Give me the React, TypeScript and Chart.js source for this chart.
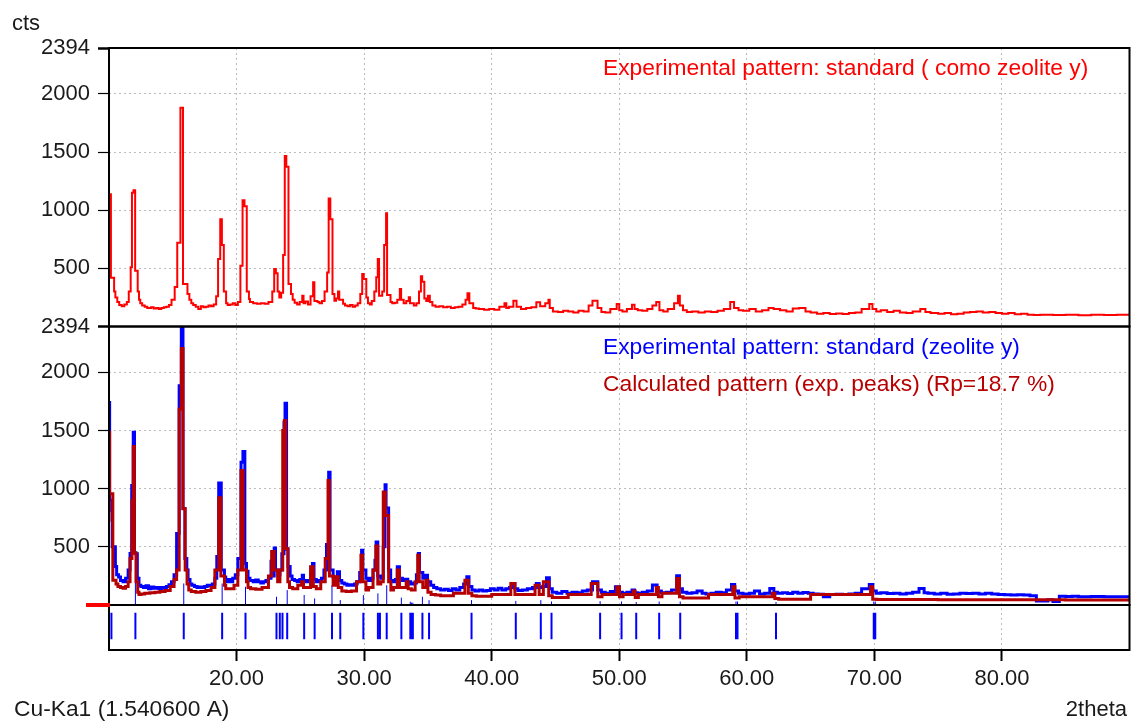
import React, { useEffect, useRef } from "react";
import { Chart, registerables } from "chart.js";

Chart.register(...registerables);

// ---------------- data ----------------
const xRange = [10, 90];
const yMaxCounts = 2394;
const yTickValues = [500, 1000, 1500, 2000, 2394];
const xTickValues = [20, 30, 40, 50, 60, 70, 80];

const topLegend = "Experimental pattern: standard ( como zeolite y)";
const expLegend = "Experimental pattern: standard (zeolite y)";
const calcLegend = "Calculated pattern (exp. peaks) (Rp=18.7 %)";
const yAxisTitle = "cts";
const xAxisTitle = "2theta";
const radiationLabel = "Cu-Ka1 (1.540600 A)";

// top panel: experimental pattern "como zeolite y" [2theta, cts]
const comoPattern: [number, number][] = [
  [10.0, 290], [10.05, 990], [10.15, 1137], [10.4, 420], [10.5, 300], [10.65, 250], [10.8, 210],
  [11.0, 185], [11.2, 175], [11.4, 190], [11.55, 210], [11.7, 300], [11.8, 510], [11.92, 1150],
  [12.05, 1171], [12.25, 480], [12.35, 300], [12.45, 230], [12.6, 200], [12.8, 180], [13.0, 170],
  [13.3, 160], [13.5, 165], [13.7, 155], [13.9, 158], [14.1, 150], [14.3, 160], [14.5, 165],
  [14.7, 170], [14.9, 185], [15.15, 230], [15.35, 340], [15.6, 720], [15.8, 1880], [16.15, 365],
  [16.3, 280], [16.45, 230], [16.6, 200], [16.8, 185], [17.0, 170], [17.2, 150], [17.4, 175],
  [17.6, 165], [17.8, 170], [18.0, 180], [18.2, 175], [18.4, 190], [18.55, 260], [18.72, 580],
  [18.85, 922], [19.0, 700], [19.18, 300], [19.3, 200], [19.5, 185], [19.7, 190], [19.9, 200],
  [20.1, 185], [20.3, 210], [20.47, 522], [20.62, 1085], [20.8, 1034], [20.97, 300], [21.05, 236],
  [21.3, 210], [21.6, 200], [21.9, 195], [22.2, 200], [22.5, 195], [22.8, 210], [22.95, 300],
  [23.08, 494], [23.22, 458], [23.35, 300], [23.5, 250], [23.65, 290], [23.78, 614], [23.9, 1465],
  [24.07, 1374], [24.27, 365], [24.4, 280], [24.55, 230], [24.75, 205], [24.95, 190], [25.15, 210],
  [25.25, 265], [25.4, 200], [25.6, 215], [25.8, 190], [26.0, 260], [26.1, 380], [26.35, 220],
  [26.5, 210], [26.7, 200], [26.9, 220], [27.1, 300], [27.22, 465], [27.35, 1100], [27.52, 922],
  [27.67, 280], [27.8, 222], [27.95, 240], [28.05, 300], [28.35, 230], [28.5, 195], [28.7, 180],
  [28.9, 175], [29.1, 185], [29.3, 170], [29.5, 180], [29.7, 200], [29.85, 280], [29.97, 451],
  [30.17, 408], [30.3, 250], [30.45, 200], [30.6, 190], [30.8, 220], [30.95, 300], [31.07, 424],
  [31.17, 580], [31.42, 265], [31.57, 300], [31.72, 700], [31.8, 974], [32.07, 271], [32.2, 210],
  [32.4, 200], [32.6, 205], [32.8, 230], [32.9, 322], [33.1, 230], [33.3, 200], [33.5, 220],
  [33.6, 251], [33.9, 200], [34.1, 180], [34.3, 200], [34.45, 300], [34.55, 431], [34.72, 385],
  [34.87, 240], [35.0, 220], [35.15, 265], [35.35, 210], [35.6, 180], [35.9, 170], [36.2, 175],
  [36.5, 165], [36.8, 170], [37.1, 160], [37.4, 165], [37.7, 170], [37.95, 190], [38.1, 230],
  [38.25, 285], [38.55, 200], [38.75, 160], [39.0, 155], [39.4, 150], [39.8, 145], [40.2, 150],
  [40.6, 145], [41.0, 170], [41.15, 200], [41.35, 160], [41.7, 170], [41.95, 222], [42.3, 170],
  [42.7, 150], [43.1, 160], [43.5, 165], [43.8, 208], [44.2, 175], [44.45, 200], [44.55, 230],
  [44.8, 160], [45.2, 130], [45.6, 125], [46.0, 135], [46.4, 128], [46.8, 120], [47.2, 135],
  [47.6, 130], [47.9, 180], [48.3, 222], [48.6, 160], [48.9, 125], [49.3, 120], [49.8, 150],
  [50.0, 194], [50.25, 140], [50.6, 130], [51.0, 150], [51.2, 188], [51.45, 150], [51.8, 140],
  [52.2, 135], [52.6, 150], [52.9, 180], [53.15, 211], [53.45, 140], [53.8, 130], [54.3, 150],
  [54.6, 200], [54.75, 265], [55.0, 180], [55.3, 140], [55.7, 125], [56.2, 130], [56.7, 120],
  [57.2, 130], [57.7, 125], [58.2, 135], [58.7, 150], [59.0, 211], [59.35, 160], [59.7, 140],
  [60.2, 135], [60.7, 150], [61.2, 130], [61.7, 140], [62.1, 160], [62.6, 150], [63.1, 140],
  [63.6, 130], [64.1, 155], [64.6, 160], [65.0, 130], [65.5, 120], [66.0, 110], [66.5, 115],
  [67.0, 108], [67.5, 112], [68.0, 108], [68.5, 115], [69.0, 120], [69.6, 150], [69.85, 194],
  [70.15, 150], [70.5, 130], [71.0, 140], [71.5, 125], [72.0, 135], [72.5, 120], [73.0, 115],
  [73.6, 130], [74.0, 150], [74.4, 125], [75.0, 115], [75.5, 110], [76.0, 115], [76.5, 105],
  [77.0, 110], [77.5, 120], [78.0, 125], [78.5, 130], [79.0, 120], [79.5, 125], [80.0, 115],
  [80.5, 110], [81.0, 115], [81.5, 105], [82.0, 110], [82.5, 100], [83.0, 98], [84.0, 100],
  [85.0, 98], [86.0, 100], [87.0, 97], [88.0, 100], [89.0, 98], [90.0, 100],
];

// middle panel: experimental pattern "zeolite y" [2theta, cts]
const expPattern: [number, number][] = [
  [10.0, 800], [10.05, 1740], [10.25, 900], [10.5, 500], [10.6, 330], [10.75, 260], [10.9, 240],
  [11.1, 210], [11.3, 200], [11.5, 230], [11.65, 300], [11.78, 442], [11.9, 1028], [12.0, 1485],
  [12.1, 450], [12.22, 440], [12.35, 230], [12.5, 170], [12.7, 160], [12.9, 150], [13.1, 165],
  [13.3, 140], [13.5, 155], [13.7, 145], [13.9, 150], [14.1, 140], [14.3, 150], [14.5, 145],
  [14.7, 160], [14.9, 175], [15.1, 200], [15.3, 260], [15.5, 614], [15.67, 1885], [15.8, 2394],
  [15.95, 830], [16.1, 400], [16.2, 300], [16.35, 220], [16.5, 180], [16.7, 170], [16.9, 160],
  [17.1, 150], [17.3, 155], [17.5, 150], [17.7, 160], [17.9, 170], [18.1, 165], [18.3, 180],
  [18.45, 230], [18.6, 416], [18.8, 1048], [19.05, 300], [19.15, 240], [19.35, 200], [19.5, 220],
  [19.7, 200], [19.9, 230], [20.1, 260], [20.35, 400], [20.5, 1228], [20.65, 1319], [20.78, 357],
  [20.9, 290], [21.05, 230], [21.3, 210], [21.5, 200], [21.7, 215], [21.9, 200], [22.1, 190],
  [22.3, 200], [22.5, 210], [22.7, 230], [22.85, 376], [22.95, 250], [23.05, 491], [23.25, 300],
  [23.4, 260], [23.55, 300], [23.72, 440], [23.8, 1571], [23.92, 1734], [24.04, 480], [24.2, 330],
  [24.35, 250], [24.55, 220], [24.75, 210], [24.95, 200], [25.15, 220], [25.25, 256], [25.4, 200],
  [25.6, 210], [25.8, 200], [25.95, 260], [26.07, 357], [26.25, 220], [26.45, 200], [26.65, 210],
  [26.85, 230], [27.05, 300], [27.22, 520], [27.33, 1142], [27.57, 300], [27.7, 240], [27.9, 220],
  [28.07, 285], [28.25, 210], [28.45, 190], [28.65, 180], [28.85, 170], [29.05, 175], [29.25, 170],
  [29.45, 180], [29.65, 200], [29.8, 280], [29.9, 471], [30.14, 300], [30.3, 230], [30.5, 210],
  [30.7, 230], [30.85, 300], [30.94, 385], [31.07, 542], [31.3, 250], [31.5, 230], [31.64, 500],
  [31.72, 1034], [31.92, 834], [32.08, 300], [32.25, 210], [32.45, 200], [32.6, 220], [32.77, 328],
  [33.0, 230], [33.2, 210], [33.42, 222], [33.65, 200], [33.9, 180], [34.1, 190], [34.25, 260],
  [34.34, 442], [34.6, 280], [34.8, 230], [34.97, 256], [35.22, 200], [35.45, 170], [35.7, 150],
  [36.0, 140], [36.3, 130], [36.6, 135], [36.9, 125], [37.2, 140], [37.5, 130], [37.8, 150],
  [38.05, 180], [38.22, 242], [38.45, 160], [38.7, 130], [39.0, 120], [39.3, 130], [39.6, 120],
  [39.9, 125], [40.2, 140], [40.5, 130], [40.8, 145], [41.1, 130], [41.4, 140], [41.7, 150],
  [41.82, 185], [42.05, 140], [42.4, 125], [42.8, 130], [43.2, 140], [43.5, 150], [43.72, 185],
  [44.0, 150], [44.3, 160], [44.52, 234], [44.75, 140], [45.1, 110], [45.5, 100], [45.9, 115],
  [46.3, 100], [46.7, 110], [47.1, 105], [47.5, 120], [47.9, 128], [48.32, 200], [48.6, 130],
  [48.9, 110], [49.3, 100], [49.7, 115], [50.02, 157], [50.25, 110], [50.6, 100], [51.0, 110],
  [51.2, 128], [51.45, 105], [51.8, 100], [52.2, 110], [52.6, 120], [52.97, 171], [53.3, 120],
  [53.7, 105], [54.1, 110], [54.5, 130], [54.72, 251], [54.95, 140], [55.3, 110], [55.7, 100],
  [56.1, 105], [56.5, 120], [56.8, 100], [57.2, 95], [57.6, 100], [58.0, 110], [58.4, 105],
  [58.8, 130], [59.05, 177], [59.35, 120], [59.7, 100], [60.2, 95], [60.6, 100], [61.0, 120],
  [61.4, 95], [61.8, 100], [62.12, 142], [62.4, 110], [62.8, 100], [63.2, 105], [63.6, 98],
  [64.0, 110], [64.4, 100], [64.8, 108], [65.2, 100], [65.6, 95], [66.0, 92], [66.5, 70],
  [67.0, 90], [67.5, 92], [68.0, 90], [68.5, 95], [69.0, 100], [69.6, 140], [69.87, 177],
  [70.15, 120], [70.5, 100], [71.0, 105], [71.5, 98], [72.0, 102], [72.5, 95], [73.0, 100],
  [73.5, 110], [73.9, 142], [74.2, 105], [74.7, 100], [75.2, 95], [75.7, 100], [76.2, 92],
  [76.7, 95], [77.2, 100], [77.7, 98], [78.2, 100], [78.7, 95], [79.2, 100], [79.7, 95],
  [80.2, 90], [80.7, 88], [81.2, 85], [81.7, 88], [82.2, 85], [82.7, 80], [83.6, 35], [84.0, 45],
  [84.5, 30], [85.0, 75], [85.5, 72], [86.0, 75], [87.0, 70], [88.0, 72], [89.0, 70], [90.0, 70],
];

// middle panel: calculated pattern [2theta, cts]
const calcPattern: [number, number][] = [
  [10.0, 716], [10.05, 1485], [10.3, 956], [10.55, 213], [10.7, 180], [10.9, 160], [11.1, 150],
  [11.3, 145], [11.5, 160], [11.65, 200], [11.8, 400], [11.9, 899], [11.99, 1362], [12.12, 444],
  [12.25, 200], [12.35, 110], [12.5, 90], [12.8, 95], [13.2, 100], [13.6, 105], [14.0, 110],
  [14.4, 115], [14.8, 125], [15.1, 160], [15.3, 220], [15.5, 300], [15.67, 1685], [15.8, 2205],
  [15.97, 828], [16.12, 300], [16.25, 180], [16.45, 130], [16.8, 115], [17.2, 110], [17.6, 115],
  [18.0, 125], [18.3, 150], [18.6, 300], [18.77, 922], [19.05, 250], [19.15, 170], [19.4, 140],
  [19.8, 140], [20.1, 170], [20.35, 300], [20.52, 1156], [20.78, 300], [20.9, 200], [21.1, 150],
  [21.5, 140], [22.0, 135], [22.5, 150], [22.75, 250], [22.95, 459], [23.22, 300], [23.4, 200],
  [23.62, 300], [23.75, 1500], [23.85, 1585], [24.02, 485], [24.15, 200], [24.4, 150], [24.8, 140],
  [25.1, 170], [25.25, 200], [25.45, 150], [25.8, 150], [26.02, 328], [26.25, 160], [26.6, 140],
  [26.95, 200], [27.17, 400], [27.28, 1071], [27.57, 250], [27.75, 170], [27.97, 242], [28.25, 150],
  [28.6, 120], [29.0, 115], [29.4, 120], [29.75, 200], [29.88, 428], [30.14, 200], [30.35, 130],
  [30.7, 150], [30.92, 300], [31.07, 508], [31.3, 180], [31.5, 200], [31.67, 971], [31.92, 770],
  [32.1, 200], [32.3, 130], [32.6, 150], [32.77, 300], [33.0, 150], [33.3, 150], [33.45, 200],
  [33.7, 140], [34.0, 130], [34.2, 200], [34.32, 428], [34.6, 200], [34.85, 150], [35.0, 213],
  [35.25, 110], [35.6, 90], [36.0, 85], [37.0, 80], [37.9, 100], [38.17, 213], [38.45, 100],
  [38.8, 80], [40.0, 75], [41.5, 90], [41.82, 185], [42.1, 90], [43.4, 90], [43.72, 170],
  [44.05, 90], [44.47, 200], [44.75, 80], [46.0, 65], [47.8, 90], [48.32, 185], [48.65, 70],
  [49.8, 90], [50.02, 155], [50.3, 70], [51.1, 90], [51.25, 120], [51.5, 65], [52.9, 90],
  [53.07, 150], [53.35, 70], [54.5, 100], [54.72, 228], [55.0, 70], [57.0, 60], [58.9, 90],
  [59.07, 157], [59.4, 60], [62.0, 70], [62.2, 100], [62.5, 55], [65.0, 50], [69.7, 90],
  [69.87, 157], [70.2, 50], [75.0, 48], [80.0, 45], [85.0, 45], [90.0, 42],
];

// reference peak positions (2theta) and their short marker heights in the middle panel (cts)
const peakPositions = [
  10.19, 12.07, 15.86, 18.87, 20.7, 23.13, 23.39, 23.6, 23.97, 25.3, 26.12, 27.48, 28.13, 29.94,
  31.08, 31.24, 31.77, 32.92, 33.62, 33.72, 33.82, 34.57, 35.09, 38.42, 41.89, 43.85, 44.69, 48.5,
  50.18, 51.33, 53.13, 54.78, 59.15, 59.27, 62.29, 69.95, 70.07,
];
const peakMarkerHeights = [
  0, 440, 185, 185, 157, 71, 0, 0, 128, 86, 57, 170, 42, 85,
  100, 0, 170, 63, 28, 20, 20, 71, 42, 42, 35, 42, 30, 33,
  30, 25, 30, 30, 30, 30, 25, 30, 30,
];
const stickRange = [0.24, 0.83];

// ---------------- chart ----------------
const FONT = '"Liberation Sans", Arial, sans-serif';
const FONT_SIZE = 22;
const LABEL_FONT_SIZE = 22.8;
const TEXT_COLOR = "#1a1a1a";
const GRID_COLOR = "#bdbdbd";

const framePlugin = {
  id: "xrdFrame",
  afterDatasetsDraw(chart: any) {
    const { ctx, chartArea } = chart;
    const { left, right } = chartArea;
    const top = chart.scales.yTop;
    const mid = chart.scales.yMid;
    const stick = chart.scales.yStick;
    ctx.save();
    ctx.strokeStyle = "#000";
    ctx.lineWidth = 2;
    [top, mid, stick].forEach((s: any) => {
      ctx.strokeRect(left, s.top, right - left, s.bottom - s.top);
    });
    // zero marker of the middle panel
    ctx.fillStyle = "#ff0000";
    ctx.fillRect(left - 23, mid.getPixelForValue(0) - 2, 24, 4);

    ctx.font = `${LABEL_FONT_SIZE}px ${FONT}`;
    ctx.textBaseline = "alphabetic";
    ctx.textAlign = "left";
    ctx.fillStyle = "#ff0000";
    ctx.fillText(topLegend, 603, top.top + 27);
    ctx.fillStyle = "#0000ff";
    ctx.fillText(expLegend, 603, mid.top + 27);
    ctx.fillStyle = "#b80000";
    ctx.fillText(calcLegend, 603, mid.top + 64);

    ctx.fillStyle = TEXT_COLOR;
    ctx.fillText(radiationLabel, 14, 716);
    ctx.font = `${FONT_SIZE}px ${FONT}`;
    ctx.fillText(yAxisTitle, 12, 30);
    ctx.textAlign = "right";
    ctx.fillText(xAxisTitle, 1127, 716);
    ctx.restore();
  },
};

function yPanelAxis(weight: number, stackWeight: number) {
  return {
    type: "linear",
    position: "left",
    stack: "panels",
    stackWeight,
    weight,
    min: 0,
    max: yMaxCounts,
    afterBuildTicks: (s: any) => {
      s.ticks = yTickValues.map((v) => ({ value: v }));
    },
    afterFit: (s: any) => {
      s.width = 109;
    },
    border: { display: false, dash: [2, 3] },
    grid: {
      color: (c: any) => (c.tick && c.tick.value === yMaxCounts ? "rgba(0,0,0,0)" : GRID_COLOR),
      lineWidth: 1,
      tickColor: "#000",
      tickWidth: (c: any) => (c.tick && c.tick.value === yMaxCounts ? 2.5 : 1.2),
      tickLength: 11,
      tickBorderDash: [],
    },
    ticks: {
      autoSkip: false,
      padding: 8,
      color: TEXT_COLOR,
      font: { size: FONT_SIZE, family: FONT },
      callback: (v: any) => String(v),
    },
  };
}

export default function App() {
  const ref = useRef<HTMLCanvasElement>(null);

  useEffect(() => {
    if (!ref.current) return;
    const toPts = (arr: [number, number][]) => arr.map(([x, y]) => ({ x, y }));
    const stickData = peakPositions.flatMap((p) => [
      { x: p, y: stickRange[0] },
      { x: p, y: stickRange[1] },
      { x: p, y: null },
    ]);
    const markerData = peakPositions.flatMap((p, i) => [
      { x: p, y: 0 },
      { x: p, y: peakMarkerHeights[i] },
      { x: p, y: null },
    ]);

    const chart = new Chart(ref.current, {
      type: "line",
      data: {
        datasets: [
          {
            label: topLegend,
            data: toPts(comoPattern),
            yAxisID: "yTop",
            borderColor: "#ff0000",
            borderWidth: 2,
            stepped: "after",
            pointRadius: 0,
            order: 1,
          },
          {
            label: calcLegend,
            data: toPts(calcPattern),
            yAxisID: "yMid",
            borderColor: "#b40000",
            borderWidth: 3,
            stepped: "after",
            pointRadius: 0,
            order: 1,
          },
          {
            label: expLegend,
            data: toPts(expPattern),
            yAxisID: "yMid",
            borderColor: "#0000ff",
            borderWidth: 3,
            stepped: "after",
            pointRadius: 0,
            order: 2,
          },
          {
            label: "markers",
            data: markerData as any,
            yAxisID: "yMid",
            borderColor: "#0000ff",
            borderWidth: 1,
            pointRadius: 0,
            spanGaps: false,
            order: 5,
          },
          {
            label: "peaks",
            data: stickData as any,
            yAxisID: "yStick",
            borderColor: "#0000ff",
            borderWidth: 2,
            pointRadius: 0,
            spanGaps: false,
            order: 3,
          },
        ],
      },
      options: {
        responsive: false,
        animation: false,
        events: [],
        layout: { padding: { top: 48, right: 1.5, bottom: 0, left: 0 } },
        plugins: { legend: { display: false }, tooltip: { enabled: false } },
        scales: {
          x: {
            type: "linear",
            min: xRange[0],
            max: xRange[1],
            offset: false,
            afterBuildTicks: (s: any) => {
              s.ticks = xTickValues.map((v) => ({ value: v }));
            },
            afterFit: (s: any) => {
              s.height = 72;
            },
            border: { display: false, dash: [2, 3] },
            grid: {
              offset: false,
              color: GRID_COLOR,
              lineWidth: 1,
              tickColor: "#000",
              tickWidth: 2,
              tickLength: 11,
              tickBorderDash: [],
            },
            ticks: {
              autoSkip: false,
              maxRotation: 0,
              padding: 5,
              color: TEXT_COLOR,
              font: { size: FONT_SIZE, family: FONT },
              callback: (v: any) => Number(v).toFixed(2),
            },
          },
          yTop: yPanelAxis(3, 278.5) as any,
          yMid: yPanelAxis(2, 278.5) as any,
          yStick: {
            type: "linear",
            position: "left",
            stack: "panels",
            stackWeight: 45,
            weight: 1,
            min: 0,
            max: 1,
            afterFit: (s: any) => {
              s.width = 109;
            },
            border: { display: false },
            grid: { display: false },
            ticks: { display: false },
          },
        },
      },
      plugins: [framePlugin],
    } as any);
    return () => chart.destroy();
  }, []);

  return (
    <div style={{ position: "fixed", left: 0, top: 0, width: 1131, height: 722, background: "#fff" }}>
      <canvas ref={ref} width={1131} height={722} style={{ display: "block", width: 1131, height: 722 }} />
    </div>
  );
}
